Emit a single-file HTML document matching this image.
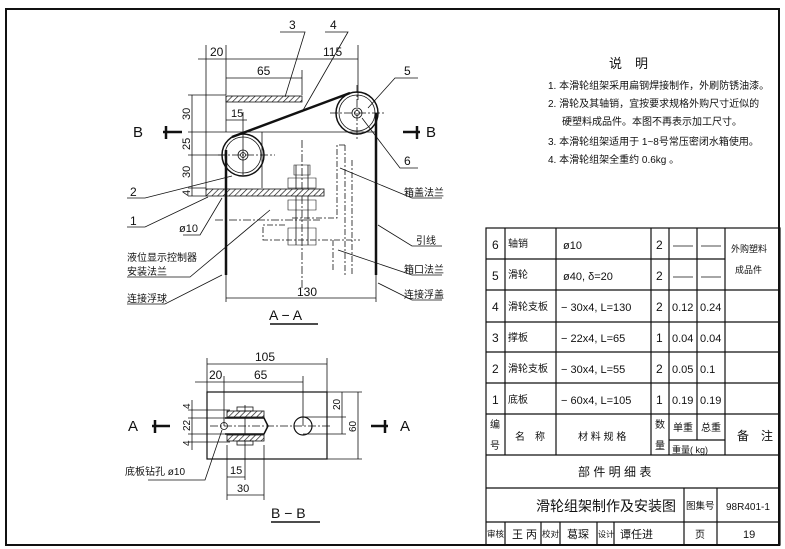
<!DOCTYPE html>
<html><head><meta charset="utf-8"><style>
html,body{margin:0;padding:0;background:#fff}
svg{display:block}
text{font-family:"Liberation Sans","Noto Sans CJK SC",sans-serif;fill:#111}
</style></head><body>
<svg width="785" height="549" viewBox="0 0 785 549" xmlns="http://www.w3.org/2000/svg">
<defs>
<pattern id="h" width="4" height="4" patternUnits="userSpaceOnUse" patternTransform="rotate(45)">
<rect width="4" height="4" fill="#fff"/><line x1="0" y1="0" x2="0" y2="4" stroke="#111" stroke-width="1.3"/></pattern>
</defs>
<rect x="6" y="9" width="773" height="536" fill="none" stroke="#111" stroke-width="2"/>

<g stroke="#111" fill="none" stroke-width="0.8">
<line x1="206" y1="45" x2="206" y2="190"/>
<line x1="226" y1="45" x2="226" y2="95"/>
<line x1="358" y1="45" x2="358" y2="100"/>
<line x1="302" y1="70" x2="302" y2="95"/>
<line x1="198" y1="59" x2="358" y2="59"/>
<line x1="226" y1="78" x2="302" y2="78"/>
<line x1="192" y1="95" x2="192" y2="196"/>
<line x1="188" y1="95" x2="226" y2="95"/>
<line x1="188" y1="132" x2="226" y2="132"/>
<line x1="188" y1="155" x2="226" y2="155"/>
<line x1="188" y1="188" x2="206" y2="188"/>
<line x1="188" y1="196" x2="206" y2="196"/>
<line x1="226" y1="120" x2="247" y2="120"/>
<line x1="243" y1="112" x2="243" y2="175"/>
<line x1="226" y1="298" x2="376" y2="298"/>
<line x1="226" y1="275" x2="226" y2="302"/>
<line x1="376" y1="275" x2="376" y2="302"/>
<line x1="218" y1="155" x2="275" y2="155" stroke-dasharray="8 2 2 2"/>
<line x1="330" y1="113" x2="385" y2="113" stroke-dasharray="8 2 2 2"/>
<line x1="357" y1="85" x2="357" y2="140" stroke-dasharray="8 2 2 2"/>
<line x1="302" y1="140" x2="302" y2="290" stroke-dasharray="8 2 2 2"/>
<line x1="215" y1="220" x2="320" y2="220" stroke-dasharray="8 2 2 2"/>
<path d="M345 145 L337 145 L337 218 L290 218 M285 225 L263 225 L263 240 L360 240 M345 145 L345 275 M352 160 L352 275 M333 240 L333 270" stroke-dasharray="6 2 2 2"/>
<path d="M294 165 L310 165 L310 175 L294 175 Z M288 178 L316 178 L316 188 L288 188 Z M288 200 L316 200 L316 210 L288 210 Z M288 228 L316 228 L316 245 L288 245 Z" stroke-width="0.6"/>
<line x1="296" y1="165" x2="296" y2="245"/><line x1="308" y1="165" x2="308" y2="245"/>
<rect x="226" y="96" width="76" height="6" fill="url(#h)"/>
<rect x="206" y="189" width="118" height="7" fill="url(#h)"/>
<line x1="226" y1="132" x2="376" y2="132"/>
<line x1="262" y1="132" x2="262" y2="188"/>
<line x1="226" y1="96" x2="226" y2="132"/>
<line x1="226" y1="150" x2="226" y2="275" stroke-width="2.5"/>
<line x1="376" y1="113" x2="376" y2="275" stroke-width="2.5"/>
<line x1="232" y1="137" x2="350" y2="93" stroke-width="2.5"/>
<circle cx="243" cy="155" r="21" stroke-width="1.5"/><circle cx="243" cy="155" r="18"/><circle cx="243" cy="155" r="5"/><circle cx="243" cy="155" r="2.5"/>
<circle cx="357" cy="113" r="21" stroke-width="1.5"/><circle cx="357" cy="113" r="18"/><circle cx="357" cy="113" r="5"/><circle cx="357" cy="113" r="2.5"/>
<polyline points="280,32 305,32 285,97"/>
<polyline points="325,32 348,32 302,112"/>
<polyline points="418,78 395,78 368,108"/>
<polyline points="418,168 400,168 362,118"/>
<polyline points="127,198 145,198 232,176"/>
<polyline points="127,227 145,227 208,197"/>
<polyline points="183,235 200,235 222,198"/>
<polyline points="127,277 190,277 270,210"/>
<polyline points="127,304 165,304 222,275"/>
<polyline points="442,198 412,198 340,168"/>
<polyline points="442,246 412,246 378,225"/>
<polyline points="442,275 412,275 338,250"/>
<polyline points="442,300 412,300 378,283"/>
<line x1="163" y1="132" x2="182" y2="132" stroke-width="2.5"/><line x1="166" y1="126" x2="166" y2="139" stroke-width="2.5"/>
<line x1="403" y1="132" x2="420" y2="132" stroke-width="2.5"/><line x1="417" y1="126" x2="417" y2="139" stroke-width="2.5"/>
<line x1="270" y1="324" x2="318" y2="324" stroke-width="1.5"/>
</g>
<g font-size="12">
<text x="210" y="56">20</text><text x="323" y="56">115</text><text x="257" y="75">65</text>
<text x="231" y="117" font-size="11">15</text>
<text x="289" y="29">3</text><text x="330" y="29">4</text><text x="404" y="75">5</text><text x="404" y="165">6</text>
<text x="130" y="196">2</text><text x="130" y="225">1</text><text x="179" y="232" font-size="11">ø10</text>
<text x="297" y="296">130</text>
<text x="133" y="137" font-size="15">B</text><text x="426" y="137" font-size="15">B</text>
<text x="269" y="320" font-size="14">A − A</text>
</g>
<g font-size="11">
<text transform="translate(190,120) rotate(-90)">30</text>
<text transform="translate(190,150) rotate(-90)">25</text>
<text transform="translate(190,178) rotate(-90)">30</text>
<text transform="translate(190,196) rotate(-90)">4</text>
</g>
<g font-size="10">
<text x="127" y="261">液位显示控制器</text><text x="127" y="275">安装法兰</text>
<text x="127" y="302">连接浮球</text>
<text x="404" y="196">箱盖法兰</text><text x="416" y="244">引线</text>
<text x="404" y="273">箱口法兰</text><text x="404" y="298">连接浮盖</text>
</g>

<g stroke="#111" fill="none" stroke-width="0.8">
<rect x="207" y="392" width="120" height="67" stroke-width="1.2"/>
<line x1="207" y1="364" x2="327" y2="364"/><line x1="207" y1="358" x2="207" y2="392"/><line x1="327" y1="358" x2="327" y2="392"/>
<line x1="195" y1="382" x2="303" y2="382"/><line x1="224" y1="376" x2="224" y2="426"/><line x1="303" y1="376" x2="303" y2="426"/>
<line x1="358" y1="392" x2="358" y2="459"/><line x1="327" y1="392" x2="362" y2="392"/><line x1="327" y1="459" x2="362" y2="459"/>
<line x1="342" y1="392" x2="342" y2="434"/><line x1="303" y1="417" x2="346" y2="417"/><line x1="303" y1="434" x2="346" y2="434"/>
<line x1="192" y1="400" x2="192" y2="450"/>
<line x1="188" y1="410" x2="230" y2="410"/><line x1="188" y1="418" x2="230" y2="418"/><line x1="188" y1="434" x2="230" y2="434"/><line x1="188" y1="442" x2="230" y2="442"/>
<line x1="210" y1="426" x2="330" y2="426" stroke-dasharray="8 2 2 2"/>
<line x1="245" y1="405" x2="245" y2="480"/>
<line x1="227" y1="445" x2="227" y2="500"/><line x1="264" y1="445" x2="264" y2="500"/>
<line x1="227" y1="477" x2="245" y2="477"/><line x1="227" y1="495" x2="264" y2="495"/>
<rect x="227" y="411" width="37" height="6" fill="url(#h)"/>
<rect x="227" y="435" width="37" height="6" fill="url(#h)"/>
<rect x="237" y="407" width="16" height="4"/><rect x="237" y="441" width="16" height="4"/>
<path d="M225 418 L264 418 L268 426 L264 434 L225 434" stroke-width="1.5"/>
<circle cx="303" cy="426" r="9" stroke-width="1.2"/>
<circle cx="224" cy="426" r="3.5"/>
<polyline points="148,480 205,480 222,430"/>
<line x1="152" y1="426" x2="170" y2="426" stroke-width="2.5"/><line x1="155" y1="420" x2="155" y2="433" stroke-width="2.5"/>
<line x1="371" y1="426" x2="388" y2="426" stroke-width="2.5"/><line x1="385" y1="420" x2="385" y2="433" stroke-width="2.5"/>
<line x1="271" y1="522" x2="320" y2="522" stroke-width="1.5"/>
</g>
<g font-size="12">
<text x="255" y="361">105</text><text x="209" y="379">20</text><text x="254" y="379">65</text>
<text x="230" y="474" font-size="11">15</text><text x="237" y="492" font-size="11">30</text>
<text x="128" y="431" font-size="15">A</text><text x="400" y="431" font-size="15">A</text>
<text x="271" y="518" font-size="14">B − B</text>
<text x="125" y="475" font-size="10">底板钻孔 ø10</text>
</g>
<g font-size="10">
<text transform="translate(190,409) rotate(-90)">4</text>
<text transform="translate(190,431) rotate(-90)">22</text>
<text transform="translate(190,446) rotate(-90)">4</text>
<text transform="translate(340,410) rotate(-90)">20</text>
<text transform="translate(356,432) rotate(-90)">60</text>
</g>

<g font-size="10">
<text x="609" y="68" font-size="13">说　明</text>
<text x="548" y="89">1. 本滑轮组架采用扁钢焊接制作，外刷防锈油漆。</text>
<text x="548" y="107">2. 滑轮及其轴销，宜按要求规格外购尺寸近似的</text>
<text x="562" y="125">硬塑料成品件。本图不再表示加工尺寸。</text>
<text x="548" y="145">3. 本滑轮组架适用于 1~8号常压密闭水箱使用。</text>
<text x="548" y="163">4. 本滑轮组架全重约 0.6kg 。</text>
</g>

<g stroke="#111" fill="none" stroke-width="1.2">
<rect x="486" y="228" width="294" height="317"/>
<line x1="486" y1="259" x2="725" y2="259"/>
<line x1="486" y1="290" x2="780" y2="290"/>
<line x1="486" y1="322" x2="780" y2="322"/>
<line x1="486" y1="352" x2="780" y2="352"/>
<line x1="486" y1="383" x2="780" y2="383"/>
<line x1="486" y1="414" x2="780" y2="414"/>
<line x1="486" y1="455" x2="780" y2="455"/>
<line x1="486" y1="488" x2="780" y2="488"/>
<line x1="486" y1="522" x2="780" y2="522"/>
<line x1="669" y1="440" x2="725" y2="440"/>
<line x1="505" y1="228" x2="505" y2="455"/>
<line x1="556" y1="228" x2="556" y2="455"/>
<line x1="651" y1="228" x2="651" y2="455"/>
<line x1="669" y1="228" x2="669" y2="455"/>
<line x1="697" y1="228" x2="697" y2="440"/>
<line x1="725" y1="228" x2="725" y2="455"/>
<line x1="684" y1="488" x2="684" y2="545"/>
<line x1="717" y1="488" x2="717" y2="545"/>
<line x1="505" y1="522" x2="505" y2="545"/><line x1="541" y1="522" x2="541" y2="545"/>
<line x1="560" y1="522" x2="560" y2="545"/><line x1="597" y1="522" x2="597" y2="545"/>
<line x1="614" y1="522" x2="614" y2="545"/>
</g>
<g stroke="#111" stroke-width="0.8">
<line x1="673" y1="246" x2="693" y2="246"/><line x1="701" y1="246" x2="721" y2="246"/>
<line x1="673" y1="277" x2="693" y2="277"/><line x1="701" y1="277" x2="721" y2="277"/>
</g>
<g font-size="12">
<text x="492" y="249">6</text><text x="492" y="280">5</text><text x="492" y="311">4</text><text x="492" y="342">3</text><text x="492" y="373">2</text><text x="492" y="404">1</text>
<text x="656" y="249">2</text><text x="656" y="280">2</text><text x="656" y="311">2</text><text x="656" y="342">1</text><text x="656" y="373">2</text><text x="656" y="404">1</text>
<text x="563" y="249" font-size="11">ø10</text><text x="563" y="280" font-size="11">ø40,  δ=20</text>
<text x="561" y="311" font-size="11">− 30x4, L=130</text><text x="561" y="342" font-size="11">− 22x4, L=65</text>
<text x="561" y="373" font-size="11">− 30x4, L=55</text><text x="561" y="404" font-size="11">− 60x4, L=105</text>
<text x="672" y="311" font-size="11">0.12</text><text x="700" y="311" font-size="11">0.24</text>
<text x="672" y="342" font-size="11">0.04</text><text x="700" y="342" font-size="11">0.04</text>
<text x="672" y="373" font-size="11">0.05</text><text x="700" y="373" font-size="11">0.1</text>
<text x="672" y="404" font-size="11">0.19</text><text x="700" y="404" font-size="11">0.19</text>
</g>
<g font-size="10">
<text x="508" y="247">轴销</text><text x="508" y="278">滑轮</text><text x="508" y="310">滑轮支板</text>
<text x="508" y="341">撑板</text><text x="508" y="372">滑轮支板</text><text x="508" y="403">底板</text>
<text x="731" y="252" font-size="9">外购塑料</text><text x="735" y="273" font-size="9">成品件</text>
<text x="490" y="428">编</text><text x="490" y="449">号</text>
<text x="515" y="440">名　称</text><text x="578" y="440">材 料 规 格</text>
<text x="655" y="428">数</text><text x="655" y="449">量</text>
<text x="673" y="431">单重</text><text x="701" y="431">总重</text><text x="672" y="453" font-size="9">重量( kg)</text>
<text x="737" y="440" font-size="12">备　注</text>
<text x="578" y="476" font-size="12">部 件 明 细 表</text>
<text x="536" y="511" font-size="14">滑轮组架制作及安装图</text>
<text x="686" y="509" font-size="9.5">图集号</text>
<text x="726" y="510" font-size="10">98R401-1</text>
<text x="487" y="537" font-size="8.5">审核</text><text x="512" y="538" font-size="11">王 丙</text>
<text x="542" y="537" font-size="8.5">校对</text><text x="567" y="538" font-size="11">葛琛</text>
<text x="598" y="537" font-size="8">设计</text><text x="620" y="538" font-size="11">谭任进</text>
<text x="695" y="538">页</text><text x="743" y="538" font-size="11">19</text>
</g>
</svg>
</body></html>
